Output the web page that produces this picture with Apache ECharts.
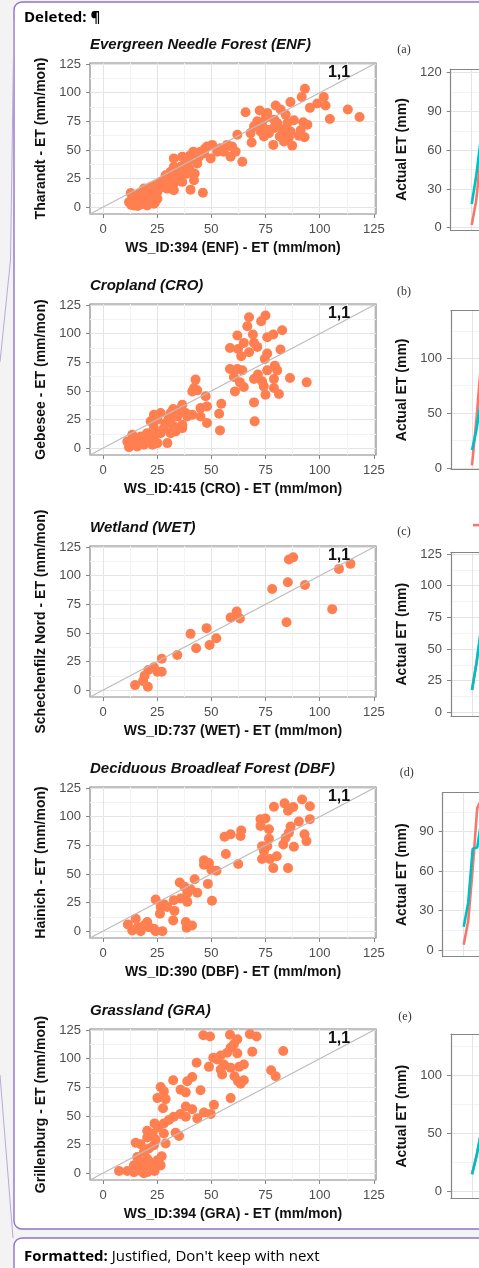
<!DOCTYPE html>
<html><head><meta charset="utf-8">
<script src="https://cdn.jsdelivr.net/npm/echarts@6/dist/echarts.min.js"></script>
<style>html,body{margin:0;padding:0;background:#f3f3f3;}#c{width:479px;height:1268px;}</style>
</head><body><div id="c"></div>
<script>
// ---------------- data ----------------
const panelTitles = ['Evergreen Needle Forest (ENF)', 'Cropland (CRO)', 'Wetland (WET)', 'Deciduous Broadleaf Forest (DBF)', 'Grassland (GRA)'];
const yNames = ['Tharandt - ET (mm/mon)', 'Gebesee - ET (mm/mon)', 'Schechenfilz Nord - ET (mm/mon)', 'Hainich - ET (mm/mon)', 'Grillenburg - ET (mm/mon)'];
const xNames = ['WS_ID:394 (ENF) - ET (mm/mon)', 'WS_ID:415 (CRO) - ET (mm/mon)', 'WS_ID:737 (WET) - ET (mm/mon)', 'WS_ID:390 (DBF) - ET (mm/mon)', 'WS_ID:394 (GRA) - ET (mm/mon)'];
const scatterTicks = [0, 25, 50, 75, 100, 125];
const scatterMinor = [12.5, 37.5, 62.5, 87.5, 112.5];
const scatterRange = [-6, 126];
const oneToOne = [[-6, -6], [126, 126]];
const oneToOneLabel = '1,1';

const enfPoints = [[93.2,103.5],[101.9,96.2],[91.7,96.2],[86.5,91.8],[113,85.3],[118.4,78.8],[102.7,88.8],[98.9,90.6],[95.5,86.8],[104.7,77.1],[65.8,82.9],[72.3,84.4],[79.7,88.8],[75.8,82.4],[82,85.3],[84.3,80.9],[71.2,75],[79,76.5],[88.1,75.9],[92.4,74.1],[94.3,72.1],[68.1,64.7],[68.6,56.5],[74.3,61.8],[78.8,69.1],[75.8,67.6],[82.7,67.6],[78.6,54.4],[83.5,57.4],[87.3,53.8],[84.3,64.7],[86.5,66.2],[91.2,67.1],[93,61.2],[90.4,62.4],[80.4,73.5],[73.4,72.1],[76.6,64.7],[85.1,73.5],[69.7,70.6],[81.6,61.8],[85.8,61.2],[72.7,66.2],[75,77.9],[62,63.2],[61.2,48.5],[58.9,44.1],[64.3,39.7],[59.6,52.9],[57.3,54.4],[54.3,51.5],[50.4,54.4],[48,52.9],[49.7,42.6],[52.7,48.5],[46.6,47.1],[44.3,44.1],[41.7,48.5],[40.1,41.2],[36.6,44.1],[38.2,38.2],[43.5,38.2],[32.7,42.6],[35.8,35.3],[39.7,33.8],[42.3,29.4],[42,23.5],[40.4,15.3],[46.1,12.6],[32.7,35.3],[31.2,30.9],[35.1,29.4],[28.9,27.9],[30.4,23.5],[32.7,20.6],[36.6,22.1],[26.6,22.1],[24.3,19.1],[29.7,16.2],[32.7,14.7],[22.8,14.7],[20.4,11.8],[18.1,8.8],[15.8,5.9],[12.8,12.4],[12,4.4],[14.3,1.5],[17.4,2.4],[20.4,1.5],[23.5,2.9],[21.2,5.9],[25.1,7.4],[15.1,10.3],[18.9,16.2],[22.8,8.8],[25.1,13.2],[27.4,17.6],[13.5,7.4],[16.6,4.4],[18.9,5.9],[22,17.6],[35.8,26.5],[38.9,29.4],[45,48.5],[55.8,48.5],[13,2],[16,1],[19,3],[24,4],[14,9],[17,12],[20,8],[23,11],[27,20],[29,24],[33,27],[37,32],[40,45],[44,47],[47,51],[53,50],[38,41]];

const croPoints = [[75,116],[67.4,114.4],[73,110.9],[66.6,106.6],[82.7,103.1],[62,98.4],[69.2,99.3],[78.6,99.3],[75.8,97],[65,92],[69.7,92],[58.6,87.6],[62.3,86.7],[71.2,88.5],[81.9,86.2],[67.4,83.8],[63.8,80.3],[75.8,82.7],[74.7,78],[58.6,69.2],[62,69.2],[64.3,68],[79.3,72.1],[80.4,68],[75.8,68],[60.4,62.2],[63.2,57.5],[69.7,60.5],[71.5,64.3],[73.4,58.4],[78.9,60.5],[86.3,61.3],[94,57.5],[65,53.4],[74.2,54],[60.9,49.6],[75,46.7],[78.9,52.6],[81.2,47.3],[69.7,40],[70,23.4],[42.7,59.9],[42,52.6],[41.2,49.6],[43.5,50.5],[47.4,45.3],[36.6,38],[32.4,34.2],[45,35],[48,36.5],[54.6,38.8],[53.6,30.1],[48,21.9],[54,15.5],[41.2,29.2],[38.2,30.7],[34.3,27.7],[31.2,30.7],[26.6,30.7],[23.5,29.2],[22,23.4],[25.1,24.8],[28.9,21.9],[32.7,19],[36.6,20.4],[29.7,4.4],[23.5,17.5],[20.4,13.1],[17.4,10.2],[14.3,7.3],[11.2,5.8],[12,0.9],[15.8,1.5],[18.9,2.9],[22.8,2.9],[25.1,4.4],[13.5,11.7],[16.6,5.8],[20.4,7.3],[23.5,10.2],[26.6,13.1],[31.2,13.1],[33.5,14.6],[36.6,17.5],[38.9,27.7],[31.2,21.9],[28.1,17.5],[18.9,10.2],[22,5.8],[14.3,2.9],[30.4,26.3],[45,27.7],[35.8,34.2]];

const wetPoints = [[85.8,114.2],[87.8,116.2],[108.9,106],[114.2,110.4],[85.3,94.3],[93.2,91.9],[78.1,88.4],[105.8,70.8],[84.7,59.4],[61.7,68.8],[58.9,63.5],[63.2,62.6],[47.8,54.2],[40.4,49.2],[52.3,45.4],[49.2,39.5],[43,36.6],[34.3,30.7],[27.1,27.5],[23.5,19.9],[20.9,17.6],[25.1,16.1],[27.1,16.1],[19.2,12.6],[18.5,7.9],[14.8,4.4],[20.7,2.9]];

const dbfPoints = [[91.9,115],[83.8,111.7],[95.5,109.1],[78.9,108.8],[87.8,108.5],[85.4,105.2],[72.7,97.9],[75,98.5],[95.5,97.9],[90.4,95.8],[72.7,92],[86.6,91.4],[76.6,89],[56.1,82.5],[58.9,84.6],[63.5,83.1],[63.8,88],[85.8,86.1],[84.3,81.7],[76.6,80.8],[93,84.6],[93.9,78.7],[83.2,75.8],[88.1,73.7],[73.4,74.3],[75.8,74.3],[74.3,69.9],[73.4,63.1],[77,63.1],[80.2,65.4],[78.6,55.1],[85.4,55.1],[56.7,67.5],[62.4,58.7],[46.6,61.9],[48.9,59.6],[46.6,58.1],[50,53.7],[52.4,52.8],[48.4,41.3],[50.3,26.5],[35.4,42.5],[42.3,45.4],[37.6,38.9],[38.9,33],[43.5,33.6],[40.4,36.6],[35.8,28.6],[38.9,25.6],[32.7,27.1],[24.3,27.7],[28.1,23.6],[26.6,21.2],[29.7,21.2],[33,17.7],[26.3,15.3],[32.4,9.4],[38.2,8],[38.6,2.9],[41.1,5],[11.5,5.9],[15.1,10.9],[13.5,0.6],[16.1,3.5],[17.4,0],[20.4,8],[21.2,3.5],[23.5,2.1],[27.4,0],[24.3,0],[18.9,5]];

const graPoints = [[46.3,120.6],[49.4,119.4],[58.6,120.9],[67.8,121.5],[70.9,119.4],[62,117.1],[60.4,112.6],[68.9,106.2],[83.2,106.8],[58.9,109.7],[62,104.7],[57.3,105.3],[54.3,102.9],[52.7,99.4],[50.9,100.9],[43.2,96.5],[55.8,95],[48.9,92.9],[58.9,92.1],[62.8,92.9],[65,95],[54.3,90.6],[77.6,90],[55,86.2],[79.7,84.7],[60.7,84.7],[41.2,84.1],[32.4,81.2],[38.9,80.3],[62.3,80.3],[65,81.2],[63.5,78.2],[26.6,75.3],[35.8,72.9],[45,72.4],[28.1,71.5],[38.2,70.6],[25.1,65.6],[28.9,64.7],[58.9,65.6],[27.7,56.8],[38.2,58.2],[41.2,55.9],[51.2,59.7],[35.8,51.8],[32.7,49.4],[38.2,49.4],[46.6,52.9],[49.7,51.8],[43.5,47.9],[30.4,46.5],[28.1,43.5],[23.8,43.5],[25.4,40],[20.4,37.1],[22.8,34.7],[28.1,34.7],[35.1,32.4],[33.5,35.3],[20.4,31.2],[24.3,29.4],[28.9,25.9],[15.1,26.5],[17.4,25.3],[23.5,24.4],[21.2,21.5],[18.9,18.5],[27.1,14.7],[25.1,11.2],[15.8,14.1],[20.4,12.6],[17.4,9.7],[22.8,8.8],[26.6,6.8],[14.3,6.8],[18.9,5.3],[7.4,1.8],[11.2,1.8],[14.3,0.9],[17.4,1.8],[20.4,0.9],[23.8,1.8],[18.9,0],[22.8,3.8]];

const panelLetters = ['(a)', '(b)', '(c)', '(d)', '(e)'];
const rightYName = 'Actual ET (mm)';
const rightTicks = [[0,30,60,90,120],[0,50,100],[0,25,50,75,100,125],[0,30,60,90],[0,50,100]];
const rightMinor = [[15,45,75,105],[25,75,125],[12.5,37.5,62.5,87.5,112.5],[15,45,75,105],[25,75,125]];
const rightRange = [[-1.8,122.9],[-0.9,143.4],[-2.9,126.3],[-5.1,119.7],[-6.3,135.3]];
const monthMajor = [0, 12, 24];
const tealA = [18.3, 40, 68, 90, 100, 95, 80];
const redA  = [2.1, 21, 55, 88, 105, 100, 85];
const tealB = [16.4, 35, 62, 90, 100, 90];
const redB  = [2.5, 45, 95, 120, 110, 95];
const tealC = [17.6, 39, 65, 90, 100, 95];
const redC  = [17.6, 39, 65, 92, 102, 95];
const tealD = [17.7, 36, 77, 78, 100, 110];
const redD  = [4, 22, 62, 108, 115, 100];
const tealE = [14.4, 30, 50, 80, 95, 90];
const redE  = [14.4, 30, 50, 82, 97, 90];

// ---------------- build ----------------
const allPoints = [enfPoints, croPoints, wetPoints, dbfPoints, graPoints];
const tealSeries = [tealA, tealB, tealC, tealD, tealE];
const redSeries = [redA, redB, redC, redD, redE];
const FONT = 'Liberation Sans, Arial, sans-serif';
const BORDER = '#858585';
const W = 479;
const tops = [63, 304, 546, 787, 1029];
const rLeft = [450.7, 451, 451, 442.7, 451];
const rTop = [69, 310.7, 552.3, 792.7, 1034];
const rBottom = [230, 469, 716, 956.7, 1198.3];
const rNameGap = [42, 42, 42, 34, 42];
const letterPos = [[404,50],[404,292.3],[404,532.3],[406.7,773.3],[405,1016.7]];
const PX_PER_MONTH = 4.5, FIRST_OFFSET = 21;

const grids = [], xAxes = [], yAxes = [], series = [], titles = [], graphics = [];

// page decorations
graphics.push({type:'rect', shape:{x:14, y:2, width:480, height:1227, r:8}, style:{fill:'#fff', stroke:'#8f74c8', lineWidth:1.4}, z:-10});
graphics.push({type:'rect', shape:{x:14, y:1238, width:480, height:60, r:8}, style:{fill:'#fff', stroke:'#8f74c8', lineWidth:1.4}, z:-10});
graphics.push({type:'polyline', shape:{points:[[14,20],[10.5,260],[0,362]]}, style:{stroke:'#b8a8dc', lineWidth:1, fill:null}, z:-9});
graphics.push({type:'polyline', shape:{points:[[0,1075],[13,1238]]}, style:{stroke:'#b8a8dc', lineWidth:1, fill:null}, z:-9});
graphics.push({type:'text', x:24, y:18, style:{text:'Deleted: ¶', font:'bold 15px "Open Sans", "Noto Sans", sans-serif', fill:'#000', textVerticalAlign:'middle'}});
graphics.push({type:'text', x:24, y:1257, style:{text:'{b|Formatted:} Justified, Don\'t keep with next', font:'15px "Open Sans", "Noto Sans", sans-serif', fill:'#000', textVerticalAlign:'middle', rich:{b:{fontWeight:'bold', fontSize:15, fontFamily:'"Open Sans", "Noto Sans", sans-serif', fill:'#000'}}}});

for (let i = 0; i < 5; i++) {
  // ---- scatter panel ----
  let g = grids.length;
  grids.push({left:90, top:tops[i], width:286, height:151, show:true, backgroundColor:'#fff', borderColor:BORDER, borderWidth:1.2});
  let xi = xAxes.length, yi = yAxes.length;
  xAxes.push({gridIndex:g, type:'value', position:'bottom', min:scatterRange[0], max:scatterRange[1],
    axisLine:{show:false, onZero:false}, axisTick:{show:true, length:4, lineStyle:{color:BORDER, width:1}, customValues:scatterTicks},
    axisLabel:{customValues:scatterTicks, color:'#4d4d4d', fontSize:13, margin:9, fontFamily:FONT},
    splitLine:{show:true, lineStyle:{color:'#e4e4e4', width:1}},
    name:xNames[i], nameLocation:'middle', nameGap:27, nameTextStyle:{fontSize:14, fontWeight:'bold', color:'#111', fontFamily:FONT}});
  xAxes.push({gridIndex:g, type:'value', position:'bottom', min:scatterRange[0], max:scatterRange[1], axisLine:{show:false, onZero:false},
    axisTick:{show:false, customValues:scatterMinor}, axisLabel:{show:false}, splitLine:{show:true, lineStyle:{color:'#f3f3f3', width:1}}});
  yAxes.push({gridIndex:g, type:'value', position:'left', min:scatterRange[0], max:scatterRange[1],
    axisLine:{show:false, onZero:false}, axisTick:{show:true, length:4, lineStyle:{color:BORDER, width:1}, customValues:scatterTicks},
    axisLabel:{customValues:scatterTicks, color:'#4d4d4d', fontSize:13, margin:9, fontFamily:FONT},
    splitLine:{show:true, lineStyle:{color:'#e4e4e4', width:1}},
    name:yNames[i], nameLocation:'middle', nameGap:41, nameTextStyle:{fontSize:14, fontWeight:'bold', color:'#111', fontFamily:FONT}});
  yAxes.push({gridIndex:g, type:'value', position:'left', min:scatterRange[0], max:scatterRange[1], axisLine:{show:false, onZero:false},
    axisTick:{show:false, customValues:scatterMinor}, axisLabel:{show:false}, splitLine:{show:true, lineStyle:{color:'#f3f3f3', width:1}}});
  series.push({type:'scatter', xAxisIndex:xi, yAxisIndex:yi, data:allPoints[i], symbolSize:10,
    itemStyle:{color:'#ff7f50', opacity:1}, silent:true, z:3});
  series.push({type:'line', xAxisIndex:xi, yAxisIndex:yi, data:oneToOne, symbol:'none',
    lineStyle:{color:'#bdbdbd', width:1.3}, silent:true, z:4});
  titles.push({text:panelTitles[i], left:90, top:tops[i]-26, padding:0,
    textStyle:{fontSize:15, fontWeight:'bold', fontStyle:'italic', color:'#111', fontFamily:FONT}});
  graphics.push({type:'text', x:339, y:tops[i]+9.5, z:10, style:{text:oneToOneLabel, font:'bold 16px ' + FONT, fill:'#111', textAlign:'center', textVerticalAlign:'middle'}});

  // ---- right (time series) panel, cut off at the page edge ----
  g = grids.length;
  const gw = W - rLeft[i];
  const xmin = -FIRST_OFFSET / PX_PER_MONTH;
  const xmax = xmin + gw / PX_PER_MONTH;
  grids.push({left:rLeft[i], top:rTop[i], width:gw, height:rBottom[i]-rTop[i], show:true, backgroundColor:'#fff', borderWidth:0});
  xi = xAxes.length; yi = yAxes.length;
  xAxes.push({gridIndex:g, type:'value', position:'bottom', min:xmin, max:xmax,
    axisLine:{show:true, onZero:false, lineStyle:{color:BORDER, width:1.2}},
    axisTick:{show:false, customValues:monthMajor}, axisLabel:{show:false}, splitLine:{show:true, lineStyle:{color:'#e4e4e4', width:1}}});
  xAxes.push({gridIndex:g, type:'value', position:'top', min:xmin, max:xmax,
    axisLine:{show:true, onZero:false, lineStyle:{color:BORDER, width:1.2}}, axisTick:{show:false}, axisLabel:{show:false}, splitLine:{show:false}});
  yAxes.push({gridIndex:g, type:'value', position:'left', min:rightRange[i][0], max:rightRange[i][1],
    axisLine:{show:true, onZero:false, lineStyle:{color:BORDER, width:1.2}}, axisTick:{show:true, length:4, lineStyle:{color:BORDER, width:1}, customValues:rightTicks[i]},
    axisLabel:{customValues:rightTicks[i], color:'#4d4d4d', fontSize:13, margin:9, fontFamily:FONT},
    splitLine:{show:true, lineStyle:{color:'#e4e4e4', width:1}},
    name:rightYName, nameLocation:'middle', nameGap:rNameGap[i], nameTextStyle:{fontSize:14, fontWeight:'bold', color:'#111', fontFamily:FONT}});
  yAxes.push({gridIndex:g, type:'value', position:'left', min:rightRange[i][0], max:rightRange[i][1], axisLine:{show:false, onZero:false},
    axisTick:{show:false, customValues:rightMinor[i]}, axisLabel:{show:false}, splitLine:{show:true, lineStyle:{color:'#f3f3f3', width:1}}});
  series.push({type:'line', xAxisIndex:xi, yAxisIndex:yi, data:redSeries[i].map((v,k)=>[k,v]), symbol:'none',
    lineStyle:{color:'#F8766D', width:2.6}, silent:true, z:3});
  series.push({type:'line', xAxisIndex:xi, yAxisIndex:yi, data:tealSeries[i].map((v,k)=>[k,v]), symbol:'none',
    lineStyle:{color:'#00BFC4', width:2.6}, silent:true, z:4});
  graphics.push({type:'text', x:letterPos[i][0], y:letterPos[i][1], style:{text:panelLetters[i], font:'12px "Liberation Serif", "DejaVu Serif", serif', fill:'#333', textAlign:'center', textVerticalAlign:'middle'}});
}
// legend key fragment visible above panel (c)
graphics.push({type:'rect', shape:{x:473, y:523.8, width:8, height:2.6}, style:{fill:'#F8766D'}});

const chart = echarts.init(document.getElementById('c'), null, {renderer:'canvas', width:479, height:1268});
chart.setOption({
  backgroundColor:'#f3f3f3',
  animation:false,
  title:titles, grid:grids, xAxis:xAxes, yAxis:yAxes, series:series,
  graphic:{elements:graphics}
});
</script></body></html>
